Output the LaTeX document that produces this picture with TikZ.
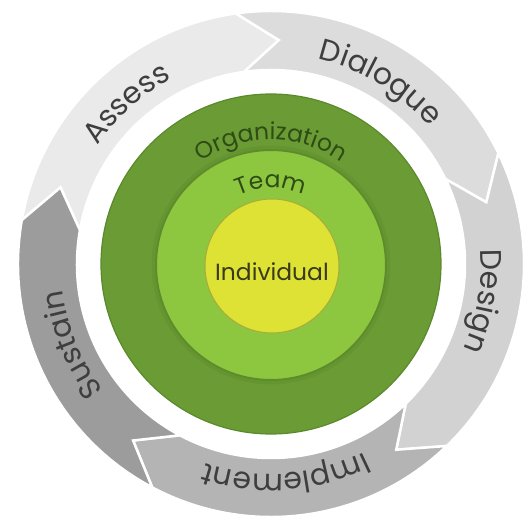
\documentclass[tikz,border=0pt]{standalone}
\usepackage{fontspec}
\setmainfont{Poppins}
\usetikzlibrary{decorations.text}

\definecolor{segA}{HTML}{EAEAEA}
\definecolor{segB}{HTML}{DCDCDC}
\definecolor{segC}{HTML}{D2D2D2}
\definecolor{segD}{HTML}{B4B4B4}
\definecolor{segE}{HTML}{9C9C9C}
\definecolor{ringtext}{HTML}{3E3E3E}
\definecolor{orggreen}{HTML}{6A9B35}
\definecolor{orgedge}{HTML}{5A8A2B}
\definecolor{teamgreen}{HTML}{8DC63F}
\definecolor{teamedge}{HTML}{5E8C2C}
\definecolor{indyellow}{HTML}{DDE234}
\definecolor{indedge}{HTML}{A9AC3A}
\definecolor{greentext}{HTML}{2F4C15}
\definecolor{indtext}{HTML}{3A3A1C}

\newcommand\ringfont{\fontsize{30}{30}\selectfont\color{ringtext}}
\newcommand\orgfont{\fontsize{23.5}{23.5}\selectfont\color{greentext}}

% one curved chevron of the outer cycle: tail at angle #1, running 72 degrees clockwise
\newcommand\ringseg[2]{%
  \pgfmathsetmacro\segEnd{#1-72}%
  \pgfmathsetmacro\segTip{#1-82}%
  \pgfmathsetmacro\segNotch{#1-10}%
  \fill[#2, draw=white, line width=2.5pt, line join=miter]
    (#1:253bp) arc[start angle=#1, end angle=\segEnd, radius=253bp]
    -- (\segTip:224bp) -- (\segEnd:194bp)
    arc[start angle=\segEnd, end angle=#1, radius=194bp]
    -- (\segNotch:224bp) -- cycle;%
}

\begin{document}
\begin{tikzpicture}
\useasboundingbox (-271bp,-255bp) rectangle (256bp,264bp);

% outer cycle
\ringseg{170}{segA}
\ringseg{98}{segB}
\ringseg{26}{segC}
\ringseg{-46}{segD}
\ringseg{-118}{segE}

% cycle labels, running clockwise along the ring
\foreach \ang/\word in {132/Assess, 59/Dialogue, -10/Design, -86/Implement, -158/Sustain}{
  \pgfmathsetmacro\lblFrom{\ang+45}
  \pgfmathsetmacro\lblTo{\ang-45}
  \path[decorate, decoration={text along path, text align=center,
      text/.expanded={|\noexpand\ringfont|\word}}]
    (\lblFrom:210bp) arc[start angle=\lblFrom, end angle=\lblTo, radius=210bp];
}

% nested circles
\fill[orggreen, draw=orgedge, line width=1.2pt] (0,0) circle[radius=170bp];
\draw[teamedge, opacity=0.35, line width=5pt] (0bp,-1bp) circle[radius=117bp];
\fill[teamgreen, draw=teamedge, line width=2pt] (0bp,-1bp) circle[radius=115bp];
\fill[indyellow, draw=indedge, line width=1pt] (1bp,-2bp) circle[radius=67bp];

% circle labels
\path[decorate, decoration={text along path, text align=center,
    text={|\orgfont|Organization}}]
  (160:124bp) arc[start angle=160, end angle=20, radius=124bp];
\path[decorate, decoration={text along path, text align=center,
    text={|\orgfont|Team}}]
  (150:76bp) arc[start angle=150, end angle=30, radius=76bp];
\node (ind) at (1bp,-8bp) {\fontsize{23.5}{23.5}\selectfont\color{indtext}Individual};
\end{tikzpicture}
\end{document}
